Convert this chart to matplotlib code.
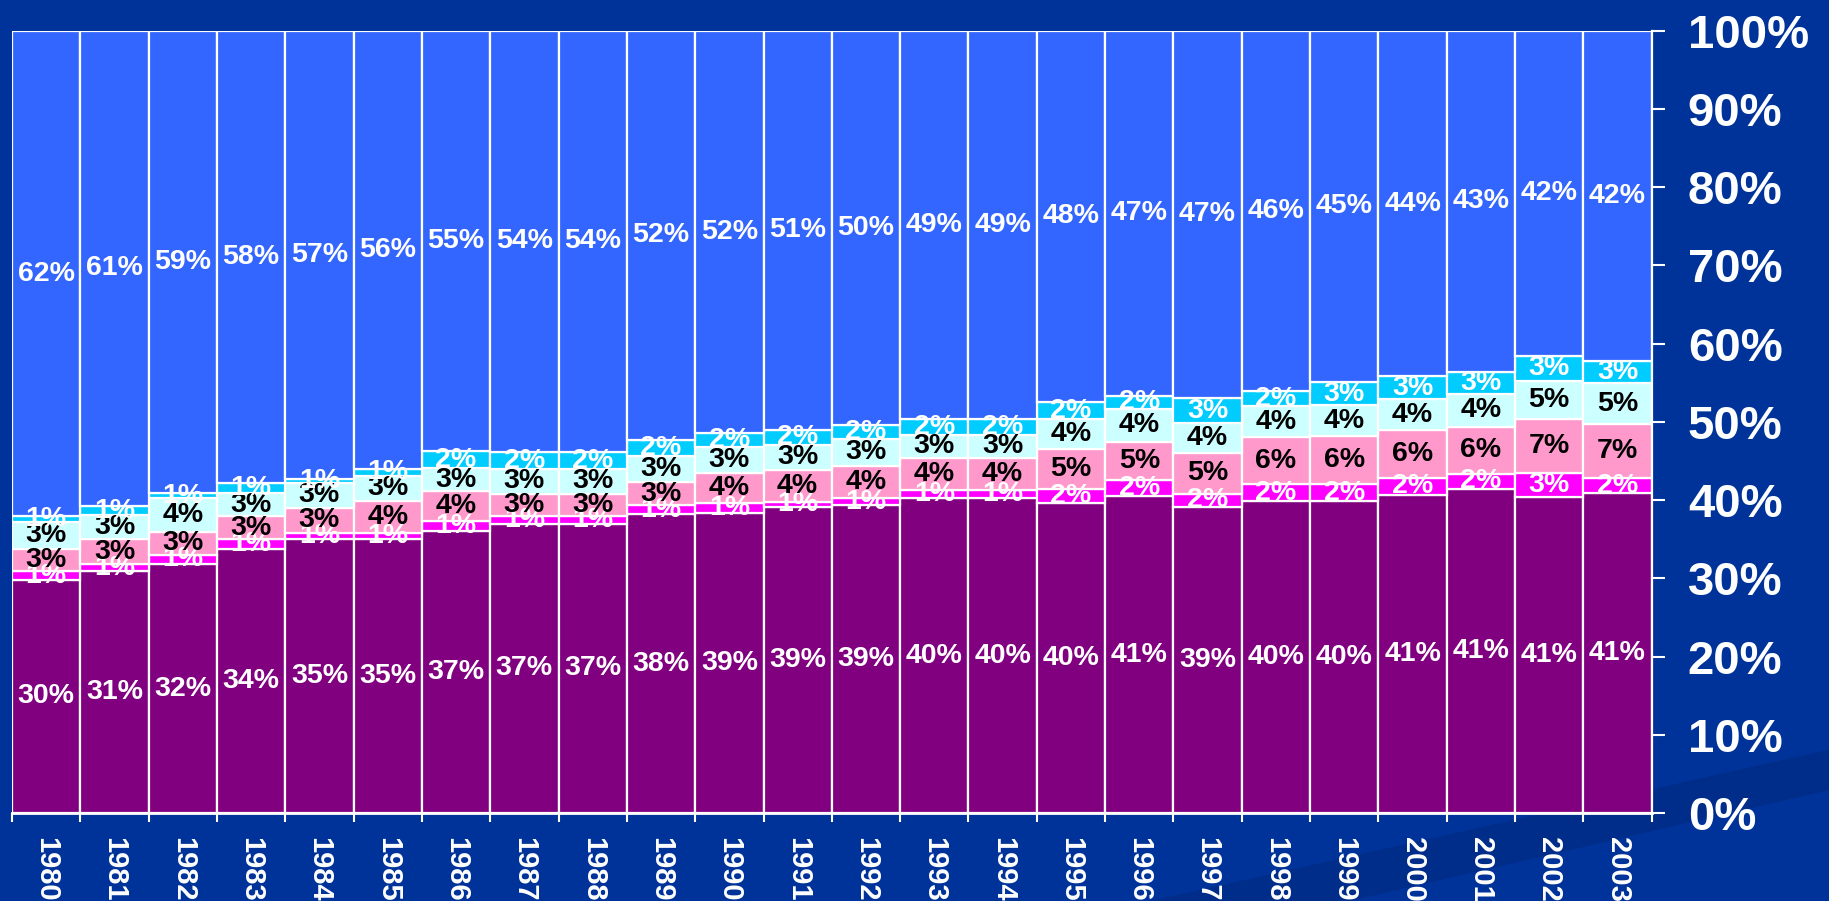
import numpy as np
import matplotlib
matplotlib.use("Agg")
import matplotlib.pyplot as plt
from matplotlib.patches import Polygon

# data (raw values as printed on the bars; chart is 100 % stacked)
years = ["1980", "1981", "1982", "1983", "1984", "1985", "1986", "1987",
         "1988", "1989", "1990", "1991", "1992", "1993", "1994", "1995",
         "1996", "1997", "1998", "1999", "2000", "2001", "2002", "2003"]

purple = [29.8, 30.9, 31.8, 33.8, 35.0, 35.0, 36.7, 37.0, 37.0, 38.2, 38.8, 39.1,
          39.1, 40.0, 40.0, 39.8, 40.7, 39.1, 39.9, 39.9, 40.7, 41.2, 40.6, 40.9]
magenta = [1.1, 0.9, 1.2, 1.2, 0.8, 0.8, 1.3, 0.9, 0.9, 1.2, 1.2, 0.7,
           0.9, 1.1, 1.1, 1.8, 2.1, 1.7, 2.1, 2.1, 2.1, 2.0, 3.0, 1.9]
pink = [2.9, 3.2, 2.9, 2.9, 3.2, 4.1, 3.8, 2.9, 2.9, 2.9, 3.9, 4.1,
        4.1, 4.1, 4.1, 5.2, 4.9, 5.2, 6.0, 6.2, 6.1, 6.0, 6.9, 6.9]
pale_cyan = [3.4, 3.1, 4.3, 3.0, 3.1, 3.2, 3.0, 3.2, 3.2, 3.4, 3.4, 3.1,
             3.4, 2.9, 2.9, 3.8, 4.2, 3.8, 4.0, 3.9, 4.0, 4.1, 5.0, 5.2]
cyan = [0.7, 1.1, 0.7, 1.3, 0.6, 0.9, 2.2, 2.1, 2.1, 2.0, 1.8, 2.0,
        1.8, 2.0, 2.0, 2.2, 1.7, 3.2, 1.9, 3.0, 2.9, 2.9, 3.2, 2.9]
blue = [62.1, 60.8, 59.1, 57.8, 57.2, 56.0, 54.7, 53.9, 53.9, 52.4, 52.0, 51.0,
        50.1, 49.4, 49.4, 47.7, 46.9, 47.0, 46.1, 44.9, 44.2, 43.4, 41.7, 42.2]

y_ticks = [0, 10, 20, 30, 40, 50, 60, 70, 80, 90, 100]

series = [
    (purple, "#800080", "white"),
    (magenta, "#FF00FF", "white"),
    (pink, "#FF99CC", "black"),
    (pale_cyan, "#CCFFFF", "black"),
    (cyan, "#00CCFF", "white"),
    (blue, "#3366FF", "white"),
]

# PLOT CONFIG
plt.rcParams['font.family'] = ['Liberation Sans', 'DejaVu Sans']
plt.rcParams['font.weight'] = 'bold'

bg = "#003399"
fig = plt.figure(figsize=(18.29, 9.01), dpi=100, facecolor=bg)

# faint background swoosh, kept behind the axes
fig.patches.append(Polygon([(0.629, 0.0), (1.0, 0.168), (1.0, 0.123), (0.738, 0.0)],
                           closed=True, transform=fig.transFigure, zorder=-1,
                           facecolor="#002D8A", edgecolor="none"))

ax = fig.add_axes([0.00656, 0.0977, 0.8965, 0.8683])
ax.set_facecolor("none")

totals = np.sum([np.array(s[0]) for s in series], axis=0)
x = np.arange(len(years))
bottom = np.zeros(len(years))
for vals, color, txt in series:
    vals = np.array(vals)
    share = vals / totals * 100
    bars = ax.bar(x, share, width=1.0, bottom=bottom, color=color,
                  edgecolor="white", linewidth=1.6)
    ax.bar_label(bars, labels=[f"{v:.0f}%" for v in vals], label_type="center",
                 color=txt, fontsize=20.5, fontweight="bold")
    bottom += share

ax.set_xlim(-0.5, len(years) - 0.5)
ax.set_ylim(0, 100)

# y axis on the right
ax.yaxis.tick_right()
ax.set_yticks(y_ticks)
ax.set_yticklabels([f"{t}%" for t in y_ticks])
ax.tick_params(axis="y", colors="white", labelsize=34, length=9.5, width=1.5,
               pad=16.5, direction="out")
for lab in ax.get_yticklabels():
    lab.set_fontweight("bold")

# x axis: ticks at the bar boundaries, labels at the centres
ax.set_xticks(x)
ax.set_xticklabels(years, rotation=-90, va="top", ha="center")
ax.set_xticks(np.arange(-0.5, len(years), 1.0), minor=True)
ax.tick_params(axis="x", which="major", length=0, colors="white", labelsize=21, pad=17)
ax.tick_params(axis="x", which="minor", length=6.5, width=1.5, colors="white")
for lab in ax.get_xticklabels():
    lab.set_fontweight("bold")

ax.spines["left"].set_visible(False)
ax.spines["top"].set_visible(False)
ax.spines["right"].set_color("white")
ax.spines["right"].set_linewidth(1.6)
ax.spines["bottom"].set_color("white")
ax.spines["bottom"].set_linewidth(2)

fig.savefig("out.png", dpi=100, facecolor=bg)
